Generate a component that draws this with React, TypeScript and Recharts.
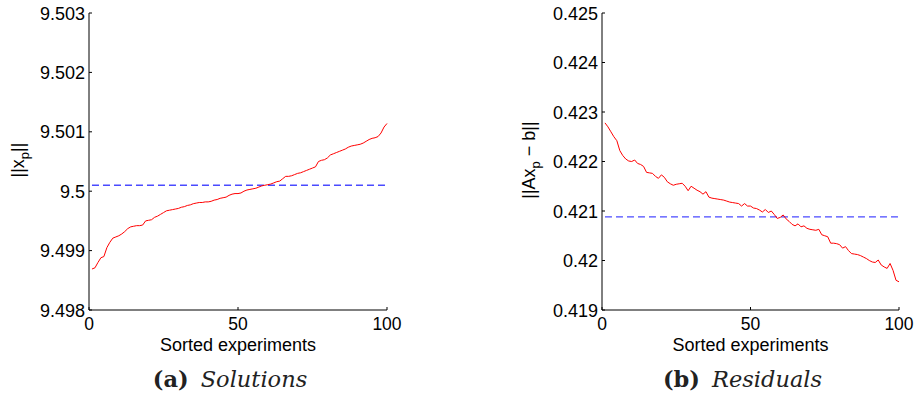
import React from 'react';
import { LineChart, Line, XAxis, YAxis, ReferenceLine } from 'recharts';

// categories: sorted experiment number
const experiments = [
  1, 2, 3, 4, 5, 6, 7, 8, 9, 10, 11, 12, 13, 14, 15, 16, 17, 18, 19, 20,
  21, 22, 23, 24, 25, 26, 27, 28, 29, 30, 31, 32, 33, 34, 35, 36, 37, 38, 39, 40,
  41, 42, 43, 44, 45, 46, 47, 48, 49, 50, 51, 52, 53, 54, 55, 56, 57, 58, 59, 60,
  61, 62, 63, 64, 65, 66, 67, 68, 69, 70, 71, 72, 73, 74, 75, 76, 77, 78, 79, 80,
  81, 82, 83, 84, 85, 86, 87, 88, 89, 90, 91, 92, 93, 94, 95, 96, 97, 98, 99, 100,
];

// (a) Solutions ||x_p||
const solutionNorms = [
  9.49869, 9.49871, 9.4988, 9.49888, 9.4989, 9.49905, 9.49914, 9.49921, 9.49923, 9.49925,
  9.49928, 9.49932, 9.49937, 9.4994, 9.49941, 9.49942, 9.49942, 9.49943, 9.4995, 9.49951,
  9.49952, 9.49956, 9.49958, 9.49961, 9.49964, 9.49967, 9.49968, 9.49969, 9.4997, 9.49971,
  9.49973, 9.49974, 9.49976, 9.49977, 9.49979, 9.4998, 9.49981, 9.49981, 9.49982, 9.49982,
  9.49983, 9.49985, 9.49986, 9.49988, 9.49989, 9.4999, 9.49993, 9.49995, 9.49996, 9.49996,
  9.49997, 9.5, 9.50002, 9.50003, 9.50004, 9.50005, 9.50007, 9.50009, 9.5001, 9.50011,
  9.50012, 9.50014, 9.50016, 9.50017, 9.50021, 9.50025, 9.50025, 9.50026, 9.50028, 9.5003,
  9.50031, 9.50033, 9.50035, 9.50037, 9.50039, 9.50041, 9.5005, 9.50052, 9.50053, 9.50056,
  9.50061, 9.50063, 9.50065, 9.50067, 9.50069, 9.50071, 9.50074, 9.50076, 9.50077, 9.50078,
  9.50079, 9.50081, 9.50084, 9.50087, 9.50089, 9.5009, 9.50092, 9.50098, 9.50108, 9.50114,
];
const solutionMean = 9.5001;

// (b) Residuals ||Ax_p - b||
const residualNorms = [
  0.42278, 0.4227, 0.4226, 0.4225, 0.42242, 0.42222, 0.42212, 0.42205, 0.42201, 0.422,
  0.42203, 0.42196, 0.42194, 0.4219, 0.42178, 0.42177, 0.42176, 0.4217, 0.42166, 0.42173,
  0.42168, 0.42159, 0.42155, 0.42152, 0.42154, 0.42155, 0.42156, 0.4215, 0.42141, 0.4215,
  0.42146, 0.42142, 0.42139, 0.42134, 0.42139, 0.42128, 0.42126, 0.42125, 0.42124, 0.42123,
  0.42122, 0.4212, 0.42118, 0.42117, 0.42116, 0.42115, 0.4211, 0.42115, 0.4211, 0.4211,
  0.42106, 0.42105, 0.42102, 0.42098, 0.42103, 0.42097, 0.421, 0.42093, 0.42085, 0.42087,
  0.42092, 0.42084, 0.42079, 0.42073, 0.4207, 0.42074, 0.42068, 0.4207, 0.42065, 0.42063,
  0.42062, 0.42061, 0.42063, 0.42052, 0.4205, 0.42048, 0.42035, 0.42035, 0.42034, 0.42032,
  0.42025, 0.42028, 0.4202, 0.42014, 0.42013, 0.42012, 0.4201, 0.42007, 0.42004, 0.42,
  0.41997, 0.41996, 0.42001, 0.41991, 0.41987, 0.41984, 0.41994, 0.4198, 0.4196, 0.41957,
];
const residualMean = 0.42088;

const xTicks = [0, 50, 100];
const yTicksA = [9.498, 9.499, 9.5, 9.501, 9.502, 9.503];
const yTicksB = [0.419, 0.42, 0.421, 0.422, 0.423, 0.424, 0.425];
const xTitle = 'Sorted experiments';

const dataA = experiments.map((e, i) => ({ idx: e, v: solutionNorms[i] }));
const dataB = experiments.map((e, i) => ({ idx: e, v: residualNorms[i] }));

const SANS = '"Liberation Sans", Arial, Helvetica, sans-serif';
const SERIF = '"DejaVu Serif", serif';

const YTick = (props: any) => {
  const { x, y, payload } = props;
  return (
    <g>
      <line x1={x} x2={x + 3} y1={y} y2={y} stroke="#000" strokeWidth={1} />
      <text x={x - 4} y={y + 6.5} textAnchor="end" fontSize={18} fontFamily={SANS} fill="#000">
        {String(payload.value)}
      </text>
    </g>
  );
};

const XTick = (props: any) => {
  const { x, y, payload } = props;
  return (
    <g>
      <line x1={x} x2={x} y1={y} y2={y - 3} stroke="#000" strokeWidth={1} />
      <text x={x} y={y + 20} textAnchor="middle" fontSize={17.5} fontFamily={SANS} fill="#000">
        {String(payload.value)}
      </text>
    </g>
  );
};

const makeXLabel = (letter: string, caption: string) => (props: any) => {
  const vb = props.viewBox || {};
  const cx = vb.x + vb.width / 2;
  return (
    <g>
      <text x={cx} y={vb.y + 41} textAnchor="middle" fontSize={18} fontFamily={SANS} fill="#000">
        {xTitle}
      </text>
      <text x={cx - 8} y={vb.y + 76.5} textAnchor="middle" fontSize={22.5} fontFamily={SERIF} fill="#222">
        <tspan fontWeight="bold">{letter}</tspan>
        <tspan dx={12} fontStyle="italic">{caption}</tspan>
      </text>
    </g>
  );
};

const makeYLabel = (main: string, sub: string, tail: string, offset: number) => (props: any) => {
  const vb = props.viewBox || {};
  const x = vb.x + vb.width - offset;
  const cy = vb.y + vb.height / 2 - 1.5;
  return (
    <text
      x={x}
      y={cy}
      transform={`rotate(-90 ${x} ${cy})`}
      textAnchor="middle"
      fontSize={18}
      fontFamily={SANS}
      fill="#000"
    >
      <tspan>{main}</tspan>
      <tspan fontSize={13} dy={5}>{sub}</tspan>
      <tspan dy={-5}>{tail}</tspan>
    </text>
  );
};

export default function App() {
  return (
    <div style={{ position: 'absolute', left: 0, top: 0, width: 914, height: 396, background: '#fff' }}>
      <div style={{ position: 'absolute', left: 0, top: 0 }}>
        <LineChart width={457} height={396} data={dataA} margin={{ top: 13, right: 70, bottom: 56, left: 0 }}>
          <XAxis
            dataKey="idx"
            type="number"
            domain={[0, 100]}
            ticks={xTicks}
            interval={0}
            height={30}
            tickSize={0}
            tickMargin={0}
            tickLine={false}
            tick={XTick}
            axisLine={{ stroke: '#000', strokeWidth: 1 }}
            label={makeXLabel('(a)', 'Solutions')}
          />
          <YAxis
            type="number"
            domain={[9.498, 9.503]}
            ticks={yTicksA}
            interval={0}
            width={89}
            tickSize={0}
            tickMargin={0}
            tickLine={false}
            tick={YTick}
            axisLine={{ stroke: '#000', strokeWidth: 1 }}
            label={makeYLabel('||x', 'p', '||', 65)}
          />
          <ReferenceLine
            segment={[{ x: 1, y: solutionMean }, { x: 100, y: solutionMean }]}
            stroke="#4a4aff"
            strokeWidth={1.3}
            strokeDasharray="7 4"
          />
          <Line type="linear" dataKey="v" stroke="#ff0000" strokeWidth={1} dot={false} isAnimationActive={false} />
        </LineChart>
      </div>
      <div style={{ position: 'absolute', left: 457, top: 0 }}>
        <LineChart width={457} height={396} data={dataB} margin={{ top: 13, right: 15, bottom: 56, left: 56 }}>
          <XAxis
            dataKey="idx"
            type="number"
            domain={[0, 100]}
            ticks={xTicks}
            interval={0}
            height={30}
            tickSize={0}
            tickMargin={0}
            tickLine={false}
            tick={XTick}
            axisLine={{ stroke: '#000', strokeWidth: 1 }}
            label={makeXLabel('(b)', 'Residuals')}
          />
          <YAxis
            type="number"
            domain={[0.419, 0.425]}
            ticks={yTicksB}
            interval={0}
            width={89}
            tickSize={0}
            tickMargin={0}
            tickLine={false}
            tick={YTick}
            axisLine={{ stroke: '#000', strokeWidth: 1 }}
            label={makeYLabel('||Ax', 'p', ' \u2212 b||', 67)}
          />
          <ReferenceLine
            segment={[{ x: 1, y: residualMean }, { x: 100, y: residualMean }]}
            stroke="#4a4aff"
            strokeWidth={1.3}
            strokeDasharray="7 4"
          />
          <Line type="linear" dataKey="v" stroke="#ff0000" strokeWidth={1} dot={false} isAnimationActive={false} />
        </LineChart>
      </div>
    </div>
  );
}
